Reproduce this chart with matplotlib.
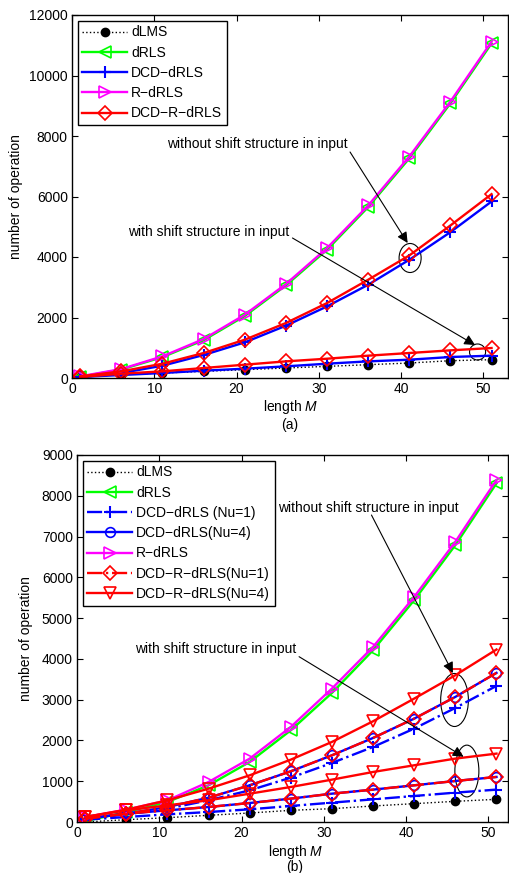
import matplotlib
matplotlib.use("Agg")
import matplotlib.pyplot as plt
from matplotlib.patches import Ellipse

plt.rcParams['font.family'] = ['Liberation Sans', 'DejaVu Sans']
plt.rcParams['mathtext.fontset'] = 'custom'
plt.rcParams['mathtext.rm'] = 'Liberation Sans'
plt.rcParams['mathtext.it'] = 'Liberation Sans:italic'
plt.rcParams['font.size'] = 10

M = [1, 6, 11, 16, 21, 26, 31, 36, 41, 46, 51]

# ---- panel (a) ----
dlms_a = [33, 110, 165, 220, 275, 330, 385, 440, 495, 572, 605]
drls_a = [40, 280, 690, 1250, 2050, 3060, 4240, 5650, 7260, 9080, 11060]
rdrls_a = [55, 297, 716, 1288, 2092, 3105, 4294, 5703, 7321, 9138, 11120]
dcd_noshift_a = [33, 165, 407, 760, 1178, 1728, 2367, 3083, 3908, 4822, 5835]
dcdr_noshift_a = [55, 220, 473, 826, 1266, 1817, 2477, 3248, 4051, 5042, 6077]
dcd_shift_a = [33, 99, 165, 242, 308, 385, 473, 550, 605, 694, 738]
dcdr_shift_a = [33, 143, 220, 330, 440, 550, 638, 738, 826, 914, 991]

# ---- panel (b) ----
dlms_b = [0, 57, 106, 164, 221, 286, 327, 393, 450, 507, 556]
drls_b = [20, 245, 491, 900, 1473, 2250, 3166, 4214, 5441, 6791, 8305]
rdrls_b = [123, 303, 532, 982, 1555, 2332, 3273, 4295, 5523, 6873, 8386]
dcd1_noshift_b = [82, 188, 327, 532, 777, 1088, 1448, 1841, 2291, 2798, 3338]
dcd4_noshift_b = [82, 205, 368, 597, 900, 1244, 1636, 2062, 2536, 3068, 3657]
dcdr1_noshift_b = [82, 205, 368, 597, 900, 1244, 1636, 2062, 2536, 3068, 3657]
dcdr4_noshift_b = [123, 303, 532, 818, 1145, 1530, 1964, 2471, 3027, 3600, 4230]
dcd1_shift_b = [57, 123, 188, 245, 311, 393, 475, 556, 638, 720, 794]
dcd4_shift_b = [82, 205, 286, 368, 466, 573, 695, 794, 900, 1006, 1105]
dcdr1_shift_b = [82, 205, 286, 368, 466, 573, 695, 794, 900, 1006, 1105]
dcdr4_shift_b = [123, 286, 409, 532, 695, 859, 1039, 1227, 1391, 1555, 1677]

labels_a = ['dLMS', 'dRLS', 'DCD\u2212dRLS', 'R\u2212dRLS', 'DCD\u2212R\u2212dRLS']
labels_b = ['dLMS', 'dRLS', 'DCD\u2212dRLS (Nu=1)', 'DCD\u2212dRLS(Nu=4)', 'R\u2212dRLS',
            'DCD\u2212R\u2212dRLS(Nu=1)', 'DCD\u2212R\u2212dRLS(Nu=4)']
note_without = 'without shift structure in input'
note_with = 'with shift structure in input'

W, H = 509, 873
fig = plt.figure(figsize=(W / 100, H / 100), dpi=100)

def axrect(l, t, r, b):
    return [l / W, 1 - b / H, (r - l) / W, (b - t) / H]

LW = 1.7
MS = 8
MEW = 1.2

def style_ax(ax):
    ax.tick_params(direction='in', top=True, right=True, length=4, width=0.8,
                   labelsize=10, pad=3)
    for s in ax.spines.values():
        s.set_linewidth(1.0)

def style_leg(leg):
    leg.get_frame().set_edgecolor('k')
    leg.get_frame().set_linewidth(1.0)

arrow_kw = dict(arrowstyle='-|>', lw=0.8, color='k', mutation_scale=16, shrinkA=0, shrinkB=0)
leg_kw = dict(loc='upper left', fontsize=10, handlelength=3.2, labelspacing=0.45,
              borderaxespad=0.4, handletextpad=0.3, borderpad=0.35,
              fancybox=False, framealpha=1)

# ---------- (a) ----------
ax1 = fig.add_axes(axrect(72, 15, 508, 378))
h = []
h += ax1.plot(M, dlms_a, ls=':', color='k', lw=1.0, marker='o', ms=6, mfc='k', mec='k', label=labels_a[0])
h += ax1.plot(M, drls_a, '-', color=(0, 1, 0), lw=LW, marker='<', ms=MS, mfc='none', mew=MEW, label=labels_a[1])
h += ax1.plot(M, dcd_noshift_a, '-', color='b', lw=LW, marker='+', ms=MS, mew=MEW + 0.3, label=labels_a[2])
ax1.plot(M, dcd_shift_a, '-', color='b', lw=LW, marker='+', ms=MS, mew=MEW + 0.3)
h += ax1.plot(M, rdrls_a, '-', color=(1, 0, 1), lw=LW, marker='>', ms=MS, mfc='none', mew=MEW, label=labels_a[3])
h += ax1.plot(M, dcdr_noshift_a, '-', color='r', lw=LW, marker='D', ms=MS - 1, mfc='none', mew=MEW, label=labels_a[4])
ax1.plot(M, dcdr_shift_a, '-', color='r', lw=LW, marker='D', ms=MS - 1, mfc='none', mew=MEW)

ax1.set_xlim(0, 53)
ax1.set_ylim(0, 12000)
ax1.set_xticks([0, 10, 20, 30, 40, 50])
ax1.set_yticks([0, 2000, 4000, 6000, 8000, 10000, 12000])
style_ax(ax1)
ax1.set_ylabel('number of operation', fontsize=10)
ax1.yaxis.set_label_coords((23 - 72) / 436, 0.5)
ax1.set_xlabel('length $M$', fontsize=10)
ax1.xaxis.label.set_va('center')
ax1.xaxis.set_label_coords(0.502, -(407 - 378) / 363)

leg1 = ax1.legend(handles=h, **leg_kw)
style_leg(leg1)

ax1.text(11.6, 7736, note_without, fontsize=10, va='center', ha='left')
ax1.annotate('', xy=(40.8, 4463), xytext=(33.8, 7471), arrowprops=arrow_kw)
ax1.add_patch(Ellipse((41.1, 3967), 2.68, 959, fill=False, lw=0.8, ec='k'))
ax1.text(6.8, 4826, note_with, fontsize=10, va='center', ha='left')
ax1.annotate('', xy=(49.0, 1091), xytext=(26.8, 4628), arrowprops=arrow_kw)
ax1.add_patch(Ellipse((49.3, 860), 1.95, 529, fill=False, lw=0.8, ec='k'))

fig.text(290 / W, 1 - 425 / H, '(a)', ha='center', va='center', fontsize=10)

# ---------- (b) ----------
ax2 = fig.add_axes(axrect(77, 455, 508, 822))
g = []
g += ax2.plot(M, dlms_b, ls=':', color='k', lw=1.0, marker='o', ms=6, mfc='k', mec='k', label=labels_b[0])
g += ax2.plot(M, drls_b, '-', color=(0, 1, 0), lw=LW, marker='<', ms=MS, mfc='none', mew=MEW, label=labels_b[1])
g += ax2.plot(M, dcd1_noshift_b, '-.', color='b', lw=LW, marker='+', ms=MS, mew=MEW + 0.3, label=labels_b[2])
ax2.plot(M, dcd1_shift_b, '-.', color='b', lw=LW, marker='+', ms=MS, mew=MEW + 0.3)
g += ax2.plot(M, dcd4_noshift_b, '-', color='b', lw=LW, marker='o', ms=MS - 1, mfc='none', mew=MEW, label=labels_b[3])
ax2.plot(M, dcd4_shift_b, '-', color='b', lw=LW, marker='o', ms=MS - 1, mfc='none', mew=MEW)
g += ax2.plot(M, rdrls_b, '-', color=(1, 0, 1), lw=LW, marker='>', ms=MS, mfc='none', mew=MEW, label=labels_b[4])
g += ax2.plot(M, dcdr1_noshift_b, '-.', color='r', lw=LW, marker='D', ms=MS - 1, mfc='none', mew=MEW, label=labels_b[5])
ax2.plot(M, dcdr1_shift_b, '-.', color='r', lw=LW, marker='D', ms=MS - 1, mfc='none', mew=MEW)
g += ax2.plot(M, dcdr4_noshift_b, '-', color='r', lw=LW, marker='v', ms=MS + 1, mfc='none', mew=MEW, label=labels_b[6])
ax2.plot(M, dcdr4_shift_b, '-', color='r', lw=LW, marker='v', ms=MS + 1, mfc='none', mew=MEW)

ax2.set_xlim(0, 52.4)
ax2.set_ylim(0, 9000)
ax2.set_xticks([0, 10, 20, 30, 40, 50])
ax2.set_yticks(list(range(0, 9001, 1000)))
style_ax(ax2)
ax2.set_ylabel('number of operation', fontsize=10)
ax2.yaxis.set_label_coords((33 - 77) / 431, 0.5)
ax2.set_xlabel('length $M$', fontsize=10)
ax2.xaxis.label.set_va('center')
ax2.xaxis.set_label_coords((295.5 - 77) / 431, -(852 - 822) / 367)

leg2 = ax2.legend(handles=g, **leg_kw)
style_leg(leg2)

ax2.text(24.4, 7700, note_without, fontsize=10, va='center', ha='left')
ax2.annotate('', xy=(45.7, 3654), xytext=(35.8, 7528), arrowprops=arrow_kw)
ax2.add_patch(Ellipse((45.9, 2992), 3.37, 1300, fill=False, lw=0.8, ec='k'))
ax2.text(7.1, 4242, note_with, fontsize=10, va='center', ha='left')
ax2.annotate('', xy=(47.0, 1601), xytext=(27.0, 4054), arrowprops=arrow_kw)
ax2.add_patch(Ellipse((47.4, 1250), 2.92, 1270, fill=False, lw=0.8, ec='k'))

fig.text(295 / W, 1 - 867 / H, '(b)', ha='center', va='center', fontsize=10)

fig.savefig('out.png', dpi=100)
